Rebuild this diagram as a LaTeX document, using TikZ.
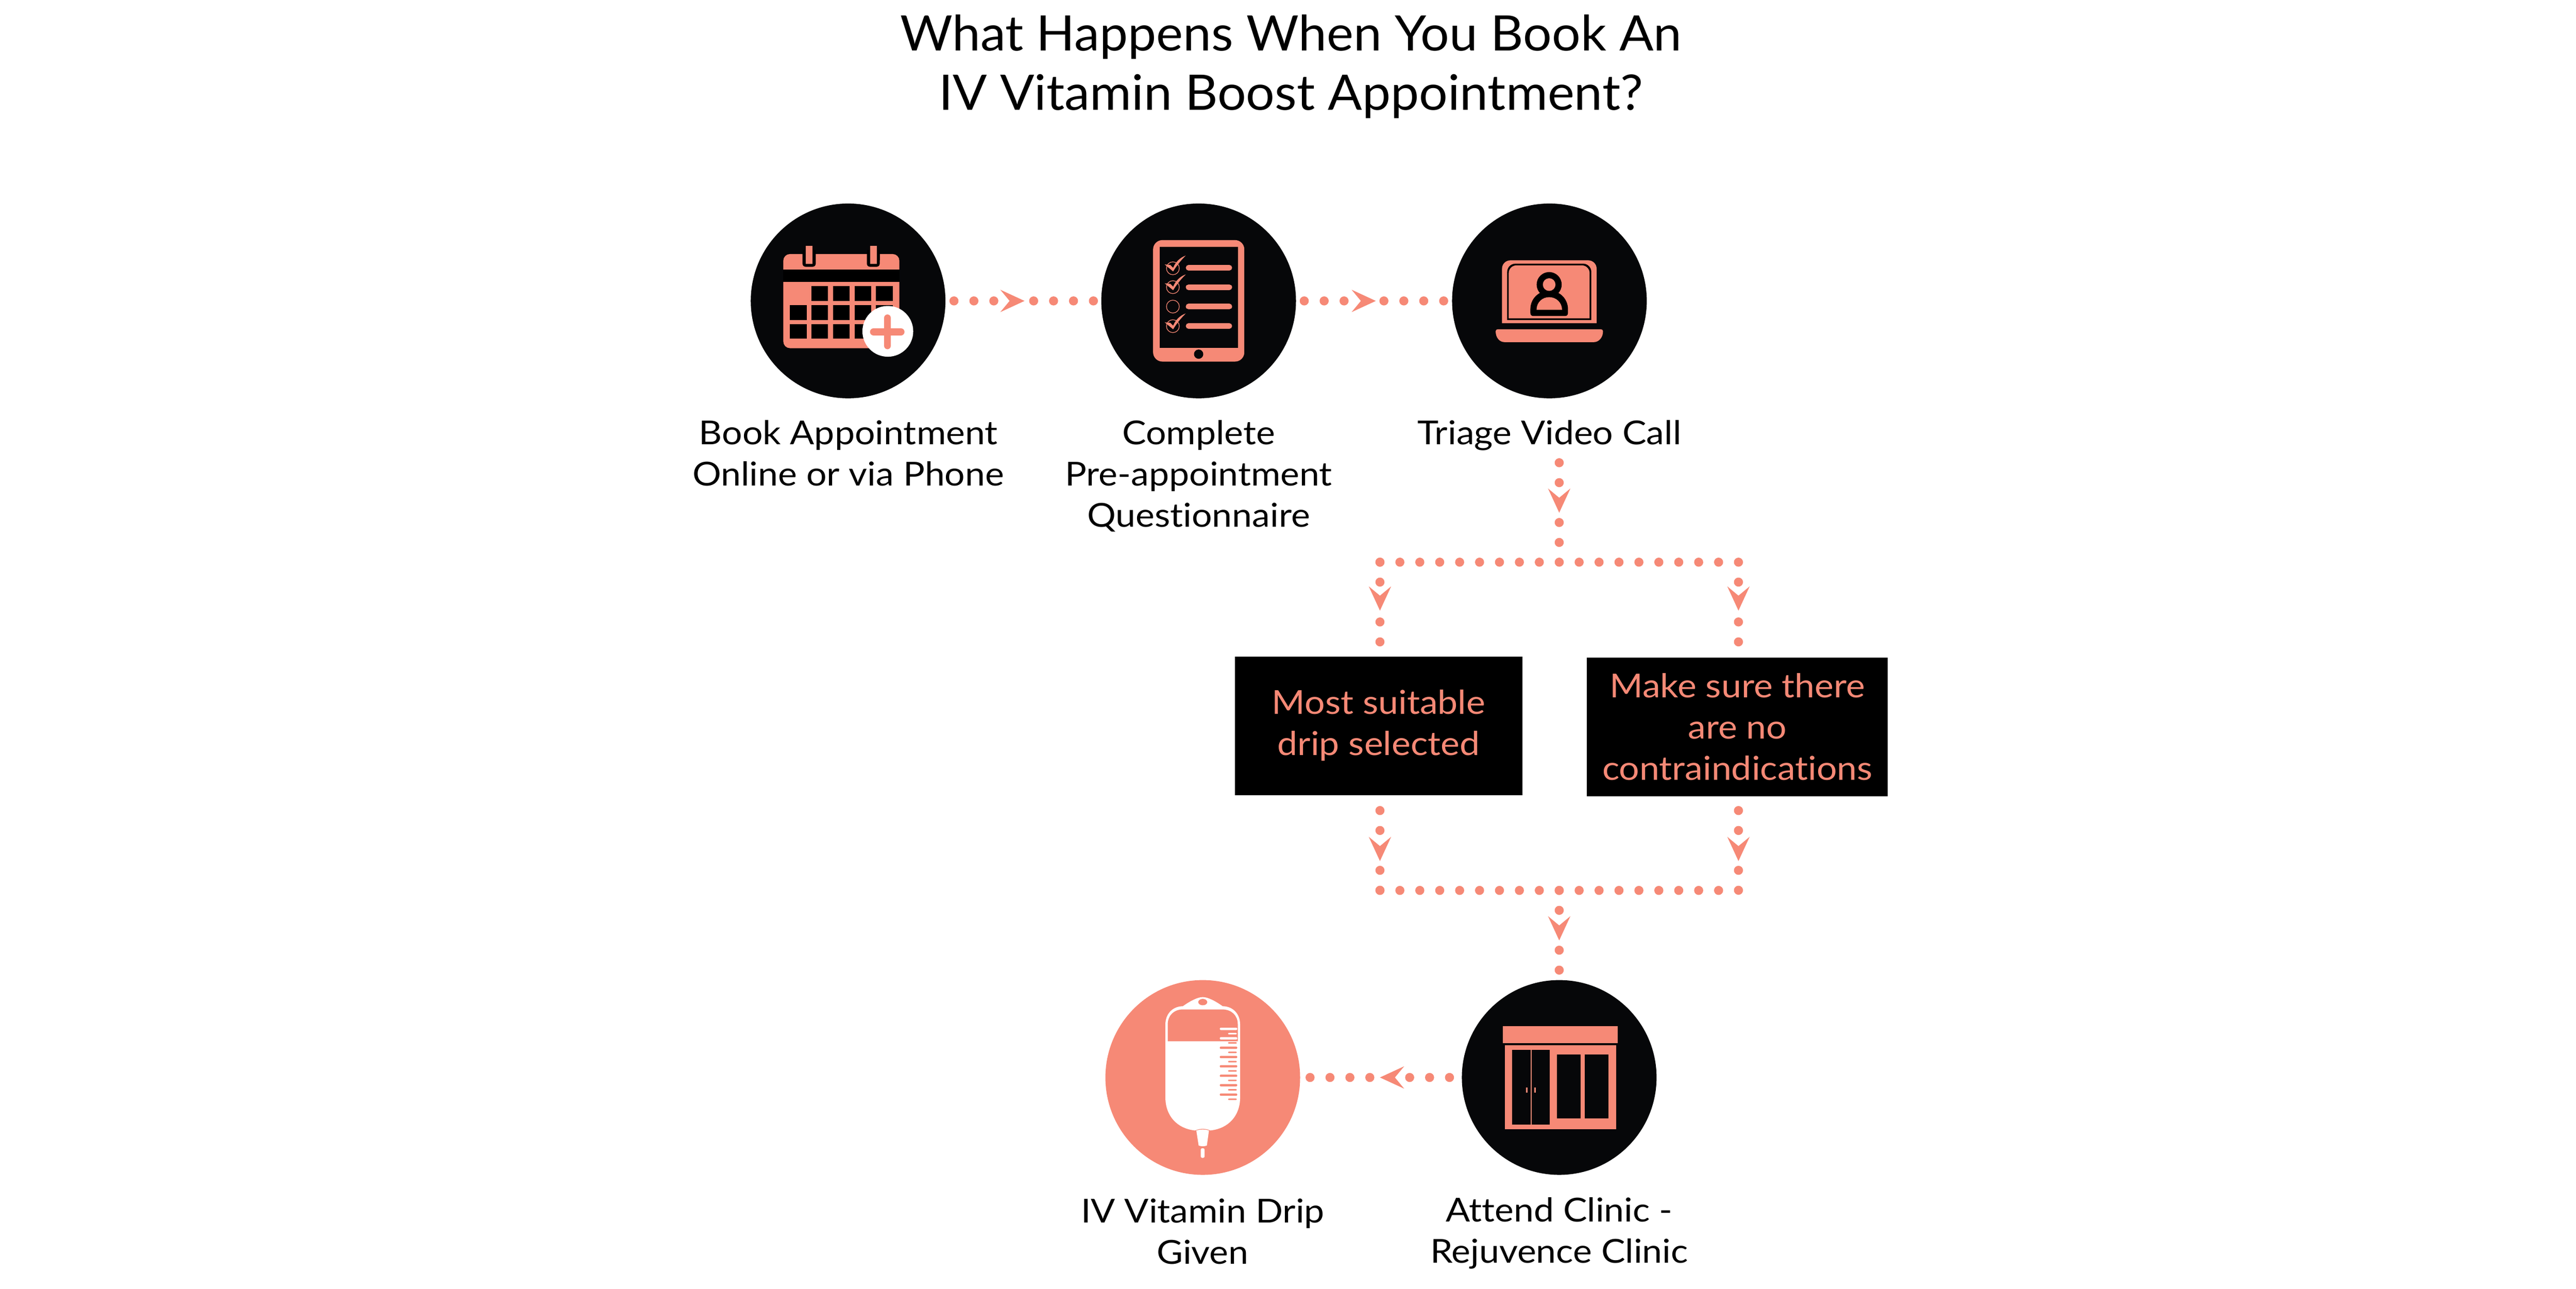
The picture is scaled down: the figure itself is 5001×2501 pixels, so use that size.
\documentclass[tikz,border=0pt]{standalone}
\usepackage{fontspec}
\setmainfont{Lato}
\newfontfamily\headfont{Lato}[FakeStretch=1.035,Ligatures=NoCommon]
\newfontfamily\bodyfont{Lato}[FakeStretch=1.09,Ligatures=NoCommon]
\definecolor{salmon}{HTML}{F68976}
\definecolor{ink}{HTML}{060709}
\tikzset{
  stage/.style={circle,fill=ink,minimum size=75.6pt,inner sep=0pt,outer sep=0pt},
  banner/.style={fill=black,text=salmon,inner sep=0pt,outer sep=0pt,align=center,font=\bodyfont\fontsize{12.8}{16}\selectfont},
  caption/.style={anchor=north,inner sep=0pt,align=center,text=black,font=\bodyfont\fontsize{12.8}{16}\selectfont},
  heading/.style={anchor=north,inner sep=0pt,align=center,text=black,font=\headfont\fontsize{19}{23}\selectfont},
  dotbase/.style={draw=salmon,line width=3.52pt,line cap=round},
  dotsH/.style={dotbase,dash pattern=on 0pt off 7.734pt on 0pt off 7.734pt on 0pt off 15.468pt on 0pt off 7.734pt on 0pt off 7.734pt on 0pt off 7.734pt on 0pt off 30pt},
  dotsV/.style={dotbase,dash pattern=on 0pt off 7.734pt on 0pt off 15.468pt on 0pt off 7.734pt on 0pt off 7.734pt on 0pt off 60pt},
  dotsL/.style={dotbase,dash pattern=on 0pt off 7.734pt},
  chev/.pic={\fill[salmon] (21,0)--(-26,-21.7)--(-8,0)--(-26,21.7)--cycle;},
}
\newcommand{\capline}{\rule{0pt}{14pt}}
\begin{document}
\begin{tikzpicture}[x=0.2pt,y=-0.2pt]
\useasboundingbox (0,0) rectangle (5001,2501);
\fill[white] (0,0) rectangle (5001,2501);

% title
\node[heading] (title) at (2506,27.7) {\capline What Happens When You Book An\\IV Vitamin Boost Appointment?};

% stages
\node[stage] (c1) at (1646.5,584) {};
\node[stage] (c2) at (2327,584) {};
\node[stage] (c3) at (3008,584) {};
\node[stage,fill=salmon] (c4) at (2335,2091) {};
\node[stage] (c5) at (3027,2091) {};

% captions
\node[caption] (l1) at (1647,792) {\capline Book Appointment\\Online or via Phone};
\node[caption] (l2) at (2327,792) {\capline Complete\\Pre-appointment\\Questionnaire};
\node[caption] (l3) at (3008,792) {\capline Triage Video Call};
\node[caption] (l4) at (2335,2301.7) {\capline IV Vitamin Drip\\Given};
\node[caption] (l5) at (3027,2300) {\capline Attend Clinic -\\Rejuvence Clinic};

% boxes
\node[banner,minimum width=111.8pt,minimum height=53.8pt] (b1) at (2676.5,1408.5) {\capline Most suitable\\drip selected\rule[-7pt]{0pt}{1pt}};
\node[banner,minimum width=116.8pt,minimum height=53.8pt] (b2) at (3373,1410.5) {\capline Make sure there\\are no\\contraindications\rule[-4.6pt]{0pt}{1pt}};

% junctions
\coordinate (s3) at (3027,898);
\coordinate (j1) at (3027,1091);
\coordinate (jl) at (2679,1091);
\coordinate (jr) at (3375,1091);
\coordinate (kl) at (2679,1728);
\coordinate (kr) at (3375,1728);
\coordinate (k0) at (3027,1728);

% connectors
\draw[dotsH,shorten <=3.3pt] (c1.east) -- (c2.west);
\draw[dotsH,shorten <=3.2pt] (c2.east) -- (c3.west);
\draw[dotsV] (s3) -- (j1);
\draw[dotsL] (jl) -- (jr);
\draw[dotsV] (jl) -- (jl |- b1.north);
\draw[dotsV] (jr) -- (jr |- b2.north);
\draw[dotsV,shorten <=6pt] (kl |- b1.south) -- ([yshift=-0.2pt]kl);
\draw[dotsV,shorten <=5.6pt] (kr |- b2.south) -- ([yshift=-0.2pt]kr);
\draw[dotsL] (kl) -- (kr);
\draw[dotsV] (k0) -- (c5.north);
\draw[dotsH,shorten <=4.8pt] (c5.west) -- (c4.east);

% arrowheads
\pic at (1968,584) {chev};
\pic at (2650,584) {chev};
\pic[rotate=-90] at (3027,974) {chev};
\pic[rotate=-90] at (2679,1164) {chev};
\pic[rotate=-90] at (3375,1164) {chev};
\pic[rotate=-90] at (2679,1650) {chev};
\pic[rotate=-90] at (3375,1650) {chev};
\pic[rotate=-90] at (3027,1804) {chev};
\pic[rotate=180] at (2700,2091) {chev};

% calendar
\fill[salmon,rounded corners=2.6pt] (1520.7,493) rectangle (1746,675.7);
\fill[black] (1520.7,523.3) rectangle (1746,546.7);
\foreach \xa/\xb in {1558/1583.6,1682.9/1707.9}{
  \fill[black,rounded corners=1.2pt] (\xa,485) rectangle (\xb,517.7);
  \fill[black] (\xa,485) rectangle (\xb,505);
}
\foreach \xa/\xb in {1564/1577.5,1689/1702.5}{
  \fill[salmon] (\xa,476.7) rectangle (\xb,511.7);
}
\foreach \xa/\xb in {1575/1607.5,1617/1649,1659/1691,1700.7/1733}{
  \fill[black] (\xa,555.3) rectangle (\xb,584.3);
}
\foreach \xa/\xb in {1533.6/1566,1575/1607.5,1617/1649,1659/1691,1700.7/1733}{
  \fill[black] (\xa,592.3) rectangle (\xb,621);
  \fill[black] (\xa,629) rectangle (\xb,657.3);
}
\fill[white] (1723.6,643) circle (49.3);
\draw[salmon,line width=2.7pt,line cap=round] (1723,617) -- (1723,671);
\draw[salmon,line width=2.8pt,line cap=round] (1696,644) -- (1749,644);

% tablet
\fill[salmon,rounded corners=3.6pt] (2238.6,466) rectangle (2415.7,701.7);
\fill[ink] (2251.4,479) rectangle (2403.2,674.7);
\fill[ink] (2327,687.3) circle (9);
\foreach \y in {519.7,557.3,595,632.7}{
  \draw[salmon,line width=2.2pt,line cap=round] (2307.5,\y) -- (2386.5,\y);
}
\foreach \y in {520.7,557.3,595,633}{
  \draw[salmon,line width=0.25pt] (2277,\y) circle (12.5);
}
\foreach \y in {520.7,557.3,633}{
  \fill[salmon,shift={(2277,\y)}] (-16,-7.5) -- (-5,-6.5) -- (0.5,-1)
    .. controls (5,-12) and (14,-21) .. (25,-24.7)
    .. controls (14,-14) and (6,-3) .. (0.5,6) -- cycle;
}

% laptop
\fill[salmon] (2916,627.3) [rounded corners=3.2pt] -- (2916,505.3) -- (3099.6,505.3) [sharp corners] -- (3099.6,627.3) -- cycle;
\fill[black] (2926,621) [rounded corners=3.2pt] -- (2926,511.7) -- (3089.3,511.7) [sharp corners] -- (3089.3,621) -- cycle;
\fill[salmon] (2929,617.7) [rounded corners=3pt] -- (2929,515) -- (3086,515) [sharp corners] -- (3086,617.7) -- cycle;
\fill[black] (3007.5,552.3) circle (24.3);
\fill[black] (2971,600) .. controls (2971,580) and (2987,564) .. (3007.5,564)
  .. controls (3028,564) and (3044,580) .. (3044,600) -- (3044,607)
  .. controls (3044,611) and (3042,613.3) .. (3038,613.3) -- (2977,613.3)
  .. controls (2973,613.3) and (2971,611) .. (2971,607) -- cycle;
\fill[salmon] (3007.5,552.3) circle (12.3);
\fill[salmon] (2983,601.3) .. controls (2983,587) and (2994,576.7) .. (3007.5,576.7)
  .. controls (3021,576.7) and (3032.5,587) .. (3032.5,601.3) -- cycle;
\fill[salmon] (2903.6,643) .. controls (2903.6,640.5) and (2905,639) .. (2908,639) -- (3108,639)
  .. controls (3110.5,639) and (3112,640.5) .. (3112,643)
  .. controls (3112,655) and (3104,664) .. (3094,664) -- (2921,664)
  .. controls (2911,664) and (2903.6,655) .. (2903.6,643) -- cycle;

% clinic
\fill[salmon] (2917.9,1991.3) rectangle (3141,2024);
\fill[salmon] (2922,2028.3) rectangle (3137.5,2191);
\fill[ink] (2936,2037) rectangle (3008.6,2182.7);
\fill[salmon] (2971.8,2037) rectangle (2973.2,2182.7);
\fill[salmon] (2963,2110.3) rectangle (2965.7,2120);
\fill[salmon] (2979,2110.3) rectangle (2981.8,2120);
\fill[ink] (3022.9,2046) rectangle (3068.6,2170.3);
\fill[ink] (3077,2046) rectangle (3122.9,2170.3);

% iv bag
\fill[white] (2335,1935) .. controls (2325,1935) and (2310,1943) .. (2296.4,1952.7)
  .. controls (2276,1953) and (2262.5,1968) .. (2262.5,1988)
  -- (2262.5,2130)
  .. controls (2262.5,2165) and (2285,2190) .. (2319,2193.7)
  -- (2350.4,2193.7)
  .. controls (2385,2190) and (2407.5,2165) .. (2407.5,2130)
  -- (2407.5,1988)
  .. controls (2407.5,1968) and (2394,1953) .. (2373.6,1952.7)
  .. controls (2360,1943) and (2345,1935) .. (2335,1935) -- cycle;
\fill[salmon] (2335,1944.7) ellipse [x radius=8.7,y radius=6.2];
\fill[salmon] (2267,2020.7) -- (2267,1988)
  .. controls (2267,1971) and (2279,1959) .. (2296,1959) -- (2373,1959)
  .. controls (2391,1959) and (2403,1971) .. (2403,1988) -- (2403,2020.7) -- cycle;
\foreach \y/\c in {1996.7/white,2015/white,2033.3/salmon,2051.3/salmon,2069.3/salmon,2087.7/salmon,2106/salmon,2124.3/salmon}{
  \fill[\c,rounded corners=0.4pt] (2368,\y-2.2) rectangle (2402,\y+2.2);
}
\foreach \y/\c in {2006/white,2024/salmon,2042.3/salmon,2060.3/salmon,2078.3/salmon,2096.7/salmon,2115/salmon,2133.3/salmon}{
  \fill[\c,rounded corners=0.25pt] (2384,\y-1.4) rectangle (2401,\y+1.4);
}
\fill[salmon] (2319,2196) .. controls (2322,2189) and (2348,2189) .. (2351,2196) -- cycle;
\fill[white] (2322.5,2194) .. controls (2328,2191.5) and (2342,2191.5) .. (2347,2194)
  -- (2343,2223) .. controls (2339,2225) and (2331,2225) .. (2327,2223) -- cycle;
\fill[salmon] (2319,2195) rectangle (2322.5,2200);
\fill[salmon] (2347,2195) rectangle (2351,2200);
\fill[white,rounded corners=0.6pt] (2331,2228.3) rectangle (2338.6,2247);
\end{tikzpicture}
\end{document}
